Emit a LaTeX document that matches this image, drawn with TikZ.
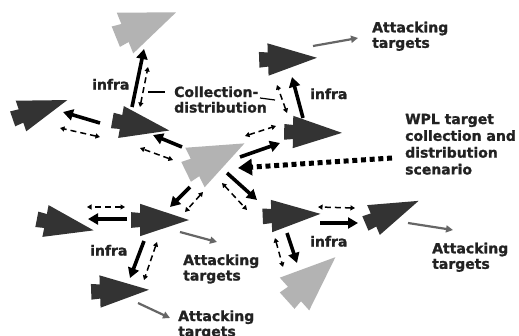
\documentclass[tikz,border=0pt]{standalone}
\usepackage{fontspec}
\setmainfont{DejaVu Sans}
\newfontfamily\heavyfont{DejaVu Sans}[BoldFeatures={FakeBold=1.3}]
\usetikzlibrary{arrows.meta}

\definecolor{shapedark}{HTML}{333333}
\definecolor{shapelight}{HTML}{B3B3B3}
\definecolor{labelink}{HTML}{222222}
\definecolor{targetline}{HTML}{666666}

% first-line-baseline multi-line label
\newcommand\lbl[1]{\begin{tabular}[t]{@{}l@{}}#1\end{tabular}}

\tikzset{
  pics/darkhead/.style={code={
    \begin{scope}[scale=49]
      \fill[shapedark] (0,-0.33) -- (1,0) -- (0,0.33) -- cycle;
      \fill[shapedark] (-0.18,-0.16) -- (0.05,-0.14) -- (0.05,0.14) -- (-0.18,0.16) -- cycle;
      \coordinate (-c) at (0.4,0);
    \end{scope}}},
  pics/lighthead/.style={code={
    \begin{scope}[scale=55]
      \fill[shapelight] (0,-0.4) -- (1,0) -- (0,0.4) -- cycle;
      \fill[shapelight] (-0.18,-0.2) -- (0.05,-0.17) -- (0.05,0.17) -- (-0.18,0.2) -- cycle;
      \coordinate (-c) at (0.4,0);
    \end{scope}}},
  infraarrow/.style={line width=3.6pt, -{Triangle[length=10pt,width=11pt]}},
  cdarrow/.style={line width=1.5pt, dash pattern=on 6pt off 4pt,
    {Triangle[length=4.5pt,width=5pt]}-{Triangle[length=4.5pt,width=5pt]}},
  targetarrow/.style={line width=2.2pt, draw=targetline, -{Triangle[length=7pt,width=7pt]}},
  leader/.style={line width=1.2pt},
  wplarrow/.style={line width=5pt, dash pattern=on 5pt off 3.7pt, -{Triangle[length=14pt,width=16pt]}},
  txt/.style={anchor=base west, inner sep=0pt, text=labelink,
    font=\heavyfont\fontsize{14}{15.5}\selectfont\bfseries},
  wpltxt/.style={txt, font=\heavyfont\fontsize{14}{16.8}\selectfont\bfseries},
}

\begin{document}
\begin{tikzpicture}[x=1pt,y=-1pt]
\fill[white] (0,0) rectangle (519,335);
\useasboundingbox (0,0) rectangle (519,335);

% ---- agents ----
\pic (G1) [rotate=22]  at (125,33)    {lighthead};
\pic (A)  [rotate=-10] at (121,122)   {darkhead};
\pic (L1) [rotate=19]  at (21,116)    {darkhead};
\pic (G0) [rotate=26]  at (195,167.5) {lighthead};
\pic (R1) [rotate=2]   at (268,59.5)  {darkhead};
\pic (R2) [rotate=-1]  at (293,132)   {darkhead};
\pic (D1) [rotate=0]   at (140,220)   {darkhead};
\pic (D2) [rotate=-11] at (45.5,221)  {darkhead};
\pic (D3) [rotate=2]   at (100,291.5) {darkhead};
\pic (E1) [rotate=2.5] at (271.5,216) {darkhead};
\pic (E2) [rotate=23]  at (373.5,220) {darkhead};
\pic (G2) [rotate=42]  at (294.5,294) {lighthead};

% ---- connector end points ----
\coordinate (A-up)    at (132,107);  \coordinate (G1-in)  at (144,49);
\coordinate (A-left)  at (100,123);  \coordinate (L1-in)  at (63,112);
\coordinate (G0-ul)   at (182,147);  \coordinate (A-in)   at (153,135);
\coordinate (G0-ur)   at (240,157);  \coordinate (R2-in)  at (280,143);
\coordinate (R2-up)   at (303,118);  \coordinate (R1-in)  at (292,77);
\coordinate (G0-ll)   at (190,187);  \coordinate (D1-in)  at (170,207);
\coordinate (G0-lr)   at (227,173);  \coordinate (E1-in)  at (257,200);
\coordinate (D1-left) at (127,219);  \coordinate (D2-in)  at (88,219);
\coordinate (D1-down) at (144,241);  \coordinate (D3-in)  at (130,278);
\coordinate (E1-right) at (320,223); \coordinate (E2-in)  at (358,223);
\coordinate (E1-down) at (287,233);  \coordinate (G2-in)  at (297,263);

\coordinate (A-cd1)  at (140,107);  \coordinate (G1-cd)  at (148,67);
\coordinate (A-cd2)  at (100,137);  \coordinate (L1-cd)  at (60,128);
\coordinate (G0-cd1) at (173,160);  \coordinate (A-cd3)  at (140,148);
\coordinate (G0-cd2) at (245,136);  \coordinate (R2-cd)  at (276,126);
\coordinate (R2-cd2) at (287,113);  \coordinate (R1-cd)  at (277,85);
\coordinate (G0-cd3) at (203,192);  \coordinate (D1-cd)  at (185,212);
\coordinate (G0-cd4) at (222,183);  \coordinate (E1-cd)  at (247,210);
\coordinate (D1-cd2) at (125,207);  \coordinate (D2-cd)  at (87,207);
\coordinate (D1-cd3) at (157,242);  \coordinate (D3-cd)  at (144,280);
\coordinate (E2-cd)  at (355,208);  \coordinate (E1-cd2) at (318,207);
\coordinate (E1-cd3) at (275,238);  \coordinate (G2-cd)  at (283,267);

\coordinate (R1-out) at (313,46);  \coordinate (R1-tgt) at (358,38);
\coordinate (D1-out) at (180,232); \coordinate (D1-tgt) at (217,242);
\coordinate (D3-out) at (138,303); \coordinate (D3-tgt) at (170,318);
\coordinate (E2-out) at (408,223); \coordinate (E2-tgt) at (453,230);

\coordinate (wpl-start) at (392,158); \coordinate (wpl-end) at (238,168);
\coordinate (cd-l1) at (148,92); \coordinate (cd-l2) at (165,92);
\coordinate (cd-r1) at (260,98); \coordinate (cd-r2) at (275,100);

% ---- infrastructure links (solid) ----
\draw[infraarrow] (A-up) -- (G1-in);
\draw[infraarrow] (A-left) -- (L1-in);
\draw[infraarrow] (G0-ul) -- (A-in);
\draw[infraarrow] (G0-ur) -- (R2-in);
\draw[infraarrow] (R2-up) -- (R1-in);
\draw[infraarrow] (G0-ll) -- (D1-in);
\draw[infraarrow] (G0-lr) -- (E1-in);
\draw[infraarrow] (D1-left) -- (D2-in);
\draw[infraarrow] (D1-down) -- (D3-in);
\draw[infraarrow] (E1-right) -- (E2-in);
\draw[infraarrow] (E1-down) -- (G2-in);

% ---- collection / distribution links (dashed) ----
\draw[cdarrow] (A-cd1) -- (G1-cd);
\draw[cdarrow] (A-cd2) -- (L1-cd);
\draw[cdarrow] (G0-cd1) -- (A-cd3);
\draw[cdarrow] (G0-cd2) -- (R2-cd);
\draw[cdarrow] (R2-cd2) -- (R1-cd);
\draw[cdarrow] (G0-cd3) -- (D1-cd);
\draw[cdarrow] (G0-cd4) -- (E1-cd);
\draw[cdarrow] (D1-cd2) -- (D2-cd);
\draw[cdarrow] (D1-cd3) -- (D3-cd);
\draw[cdarrow] (E2-cd) -- (E1-cd2);
\draw[cdarrow] (E1-cd3) -- (G2-cd);

% ---- attacks ----
\draw[targetarrow] (R1-out) -- (R1-tgt);
\draw[targetarrow] (D1-out) -- (D1-tgt);
\draw[targetarrow] (D3-out) -- (D3-tgt);
\draw[targetarrow] (E2-out) -- (E2-tgt);

% ---- scenario pointer and label leaders ----
\draw[wplarrow] (wpl-start) -- (wpl-end);
\draw[leader] (cd-l1) -- (cd-l2);
\draw[leader] (cd-r1) -- (cd-r2);

% ---- labels ----
\node[txt] (infraA) at (92,89.5) {infra};
\node[txt] (cdlabel) at (174,97) {\lbl{Collection-\\distribution}};
\node[txt] (infraR) at (310,99) {infra};
\node[txt] (atkR1) at (372,32.3) {\lbl{Attacking\\targets}};
\node[wpltxt] (wpl) at (405,124) {\lbl{WPL target\\collection and\\distribution\\scenario}};
\node[txt] (infraD) at (90,255.5) {infra};
\node[txt] (atkD1) at (183,265) {\lbl{Attacking\\targets}};
\node[txt] (atkD3) at (178,321) {\lbl{Attacking\\targets}};
\node[txt] (infraE) at (310,246.5) {infra};
\node[txt] (atkE2) at (432,253.3) {\lbl{Attacking\\targets}};
\end{tikzpicture}
\end{document}
